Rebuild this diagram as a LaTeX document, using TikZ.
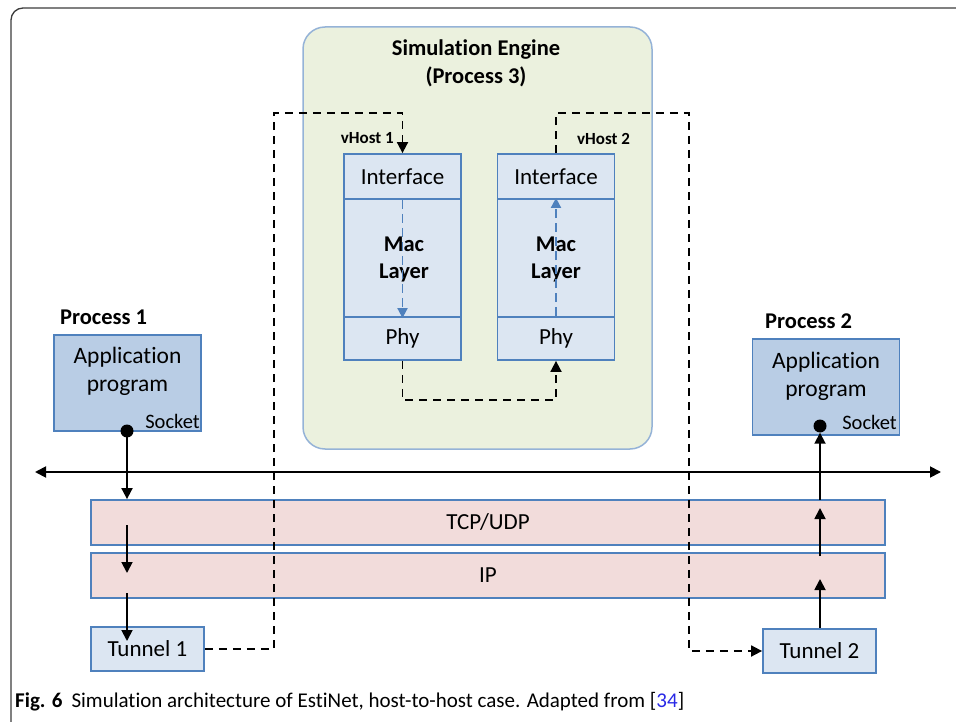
\documentclass[tikz,border=0pt]{standalone}
\usepackage{fontspec}
\setmainfont[Ligatures={NoCommon}]{Carlito}
\usetikzlibrary{arrows.meta}
\definecolor{bblue}{RGB}{79,129,189}
\definecolor{lblue}{RGB}{220,230,242}
\definecolor{mblue}{RGB}{185,205,229}
\definecolor{pinkf}{RGB}{242,220,219}
\definecolor{greenf}{RGB}{235,241,222}
\definecolor{gborder}{RGB}{149,179,215}
\definecolor{linkblue}{RGB}{40,40,230}
\definecolor{framec}{RGB}{60,60,60}
\begin{document}
\begin{tikzpicture}[x=1pt,y=-1pt,
  txt/.style={font=\fontsize{23}{27}\selectfont, inner sep=0pt},
  btxt/.style={font=\fontsize{22.5}{27}\selectfont\bfseries, inner sep=0pt, align=center},
  lay/.style={draw=bblue, line width=1.8pt, fill=lblue, inner sep=0pt, font=\fontsize{23}{27}\selectfont},
  appbox/.style={draw=bblue, line width=1.8pt, fill=mblue, inner sep=0pt, minimum width=147pt, minimum height=96pt},
  band/.style={draw=bblue, line width=1.8pt, fill=pinkf, inner sep=0pt, minimum width=794pt, minimum height=45pt, font=\fontsize{23}{27}\selectfont},
  arr/.style={line width=1.8pt, -{Triangle[length=11pt,width=11pt]}},
  darr/.style={line width=1.8pt, dash pattern=on 8pt off 6pt, -{Triangle[length=11pt,width=11pt]}},
  barr/.style={draw=bblue, line width=1.8pt, dash pattern=on 9pt off 5pt, -{Triangle[length=10pt,width=10pt]}},
  dot/.style={circle, fill=black, inner sep=0pt, minimum size=13pt}
]
\useasboundingbox (0,0) rectangle (956,722);
\draw[framec, line width=1.3pt, rounded corners=12pt] (11,730) -- (11,8) -- (970,8);

% simulation engine
\node[draw=gborder, line width=1.5pt, fill=greenf, rounded corners=22pt, minimum width=349pt, minimum height=422pt, inner sep=0pt] (engine) at (477.5,238) {};
\node[btxt, font=\fontsize{22.5}{28}\selectfont\bfseries] (etitle) at (476,63) {Simulation Engine\\(Process 3)};

% vHost 1
\node[lay, minimum width=117pt, minimum height=118pt] (mac1) at (402.5,258) {};
\node[lay, minimum width=117pt, minimum height=45pt] (if1) at (402.5,176.5) {Interface};
\node[lay, minimum width=117pt, minimum height=43pt] (phy1) at (402.5,338.5) {Phy};
\node[btxt] (mac1t) at (404,259) {Mac\\Layer};
\node[font=\fontsize{17}{20}\selectfont\bfseries, inner sep=0pt, anchor=east] (vh1) at (394,138) {vHost 1};

% vHost 2
\node[lay, minimum width=117pt, minimum height=118pt] (mac2) at (556,258) {};
\node[lay, minimum width=117pt, minimum height=45pt] (if2) at (556,176.5) {Interface};
\node[lay, minimum width=117pt, minimum height=43pt] (phy2) at (556,338.5) {Phy};
\node[btxt] (mac2t) at (556,259) {Mac\\Layer};
\node[font=\fontsize{17}{20}\selectfont\bfseries, inner sep=0pt, anchor=west] (vh2) at (577,139) {vHost 2};

\draw[barr] (if1.south) -- ([yshift=-2pt]phy1.north);
\draw[barr] (phy2.north) -- ([yshift=2pt]if2.south);

% processes
\node[font=\fontsize{22.5}{26}\selectfont\bfseries, inner sep=0pt, anchor=west] (p1) at (60,317) {Process 1};
\node[appbox] (app1) at (127.5,383) {};
\node[txt, align=center, font=\fontsize{23.5}{28}\selectfont] (app1t) at (127.5,371) {Application\\program};
\node[font=\fontsize{20.5}{24}\selectfont, inner sep=0pt, anchor=east] (sock1) at (200,421) {Socket};
\node[dot] (dot1) at (127,431) {};

\node[font=\fontsize{22.5}{26}\selectfont\bfseries, inner sep=0pt, anchor=west] (p2) at (765,321) {Process 2};
\node[appbox] (app2) at (826,387) {};
\node[txt, align=center, font=\fontsize{23.5}{28}\selectfont] (app2t) at (826,376) {Application\\program};
\node[font=\fontsize{20.5}{24}\selectfont, inner sep=0pt, anchor=east] (sock2) at (897,422) {Socket};
\node[dot] (dot2) at (820,426) {};

% bands
\node[band] (tcp) at (488,522.5) {TCP/UDP};
\node[band] (ip) at (488,575.5) {IP};

% tunnels
\node[lay, minimum width=113pt, minimum height=44pt] (tun1) at (147.5,649) {Tunnel 1};
\node[lay, minimum width=113pt, minimum height=44pt] (tun2) at (819.5,651) {Tunnel 2};

% bus
\coordinate (busL) at (35,472);
\coordinate (busR) at (941,472);
\draw[line width=1.8pt, {Triangle[length=11pt,width=11pt]}-{Triangle[length=11pt,width=11pt]}] (busL) -- (busR);

% left vertical arrows
\coordinate (l1) at (127,525);
\coordinate (l2) at (127,573);
\coordinate (l3) at (127,593);
\coordinate (l4) at (127,641);
\draw[arr] (dot1.center) -- (dot1.center |- tcp.north);
\draw[arr] (l1) -- (l2);
\draw[arr] (l3) -- (l4);

% right vertical arrows
\coordinate (r1) at (820,556);
\coordinate (r2) at (820,508);
\coordinate (r3) at (820,579);
\coordinate (r4) at (820,500);
\draw[arr] (dot2.center |- tun2.north) -- (r3);
\draw[arr] (r1) -- (r2);
\draw[arr] (r4) -- (dot2.south);

% dashed black connectors
\coordinate (c1) at (274,113);
\coordinate (c2) at (689,113);
\coordinate (c3) at (556,400);
\draw[darr] (tun1.east) -| (c1) -| (if1.north);
\draw[darr] (if2.north) |- (c2) |- (tun2.west);
\draw[darr] (phy1.south) |- (c3) -- (phy2.south);

% caption
\node[font=\fontsize{21}{24}\selectfont, inner sep=0pt, anchor=base west] (cap) at (15,707) {\textbf{Fig. 6}\hspace{9pt}Simulation architecture of EstiNet, host-to-host case. Adapted from [\textcolor{linkblue}{34}]};
\end{tikzpicture}
\end{document}
